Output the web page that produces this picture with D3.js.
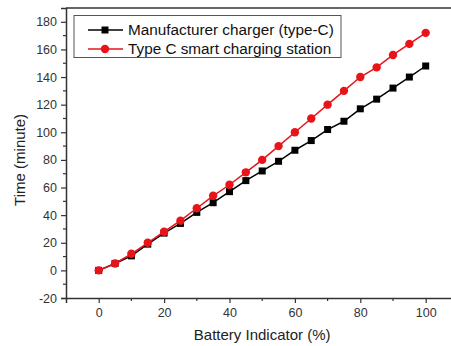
<!DOCTYPE html>
<html>
<head>
<meta charset="utf-8">
<script src="https://cdn.jsdelivr.net/npm/d3@7"></script>
<style>
  body { margin: 0; background: #fff; }
  svg { display: block; font-family: "Liberation Sans", Arial, sans-serif; }
</style>
</head>
<body>
<svg id="chart"></svg>
<script>
// battery indicator (%) vs charging time (minute)
const battery = [0, 5, 10, 15, 20, 25, 30, 35, 40, 45, 50, 55, 60, 65, 70, 75, 80, 85, 90, 95, 100];
const manufacturer = [0, 5, 10.5, 19, 27, 34, 42, 49, 57, 65, 72, 79, 87, 94, 102, 108, 117, 124, 132, 140, 148];
const smartStation = [0, 5, 12, 20, 28, 36, 45, 54, 62, 71, 80, 90, 100, 110, 120, 130, 140, 147, 156, 164, 172];
const seriesNames = ['Manufacturer charger (type-C)', 'Type C smart charging station'];
const xTicks = [0, 20, 40, 60, 80, 100];
const yTicks = [-20, 0, 20, 40, 60, 80, 100, 120, 140, 160, 180];

const width = 451, height = 346;
const margin = { top: 8, left: 66, bottom: 48 };
const fontFamily = '"Liberation Sans", Arial, sans-serif';

const svg = d3.select('#chart')
  .attr('width', width)
  .attr('height', height);

// x runs past the right edge, like the cropped original
const x = d3.scaleLinear().domain([-10, 110]).range([margin.left, margin.left + 120 * 3.27]);
const y = d3.scaleLinear().domain([-20, 190]).range([height - margin.bottom, margin.top]);

const axisColor = '#333';
const fmt = d => String(d); // plain hyphen for negatives

// axes
const xAxis = svg.append('g')
  .attr('transform', `translate(0,${height - margin.bottom})`)
  .call(d3.axisBottom(x).tickValues(xTicks).tickFormat(fmt).tickSize(5).tickPadding(5));
xAxis.append('g').selectAll('line')
  .data(d3.range(10, 110, 20))
  .join('line')
  .attr('x1', d => x(d)).attr('x2', d => x(d))
  .attr('y1', 0).attr('y2', 3);

const yAxis = svg.append('g')
  .attr('transform', `translate(${margin.left},0)`)
  .call(d3.axisLeft(y).tickValues(yTicks).tickFormat(fmt).tickSize(5).tickPadding(4));
yAxis.append('g').selectAll('line')
  .data(d3.range(-10, 190, 20))
  .join('line')
  .attr('y1', d => y(d)).attr('y2', d => y(d))
  .attr('x1', 0).attr('x2', -3);

[xAxis, yAxis].forEach(a => {
  a.attr('font-family', fontFamily).attr('font-size', 12.5);
  a.select('.domain').attr('stroke', axisColor).attr('stroke-width', 1.5);
  a.selectAll('line').attr('stroke', axisColor).attr('stroke-width', 1.2);
  a.selectAll('text').attr('fill', '#333');
});

// top border
svg.append('line')
  .attr('x1', margin.left).attr('x2', width)
  .attr('y1', margin.top).attr('y2', margin.top)
  .attr('stroke', axisColor).attr('stroke-width', 1.5);

// axis titles
svg.append('text')
  .attr('x', x(50)).attr('y', 340)
  .attr('text-anchor', 'middle')
  .attr('fill', '#222')
  .style('font-size', '15px')
  .text('Battery Indicator (%)');

svg.append('text')
  .attr('transform', `translate(25,${y(80)}) rotate(-90)`)
  .attr('text-anchor', 'middle')
  .attr('fill', '#222')
  .style('font-size', '15px')
  .text('Time (minute)');

// series
const series = [
  { name: seriesNames[0], values: manufacturer, color: '#000', shape: 'square' },
  { name: seriesNames[1], values: smartStation, color: '#e8141a', shape: 'circle' }
];

const line = d3.line()
  .x((d, i) => x(battery[i]))
  .y(d => y(d));

function drawMarker(g, shape, color) {
  if (shape === 'square') {
    g.append('rect').attr('x', -3.5).attr('y', -3.5).attr('width', 7).attr('height', 7).attr('fill', color);
  } else {
    g.append('circle').attr('r', 4.2).attr('fill', color);
  }
}

series.forEach(s => {
  svg.append('path')
    .datum(s.values)
    .attr('fill', 'none')
    .attr('stroke', s.color)
    .attr('stroke-width', 1.5)
    .attr('d', line);
  s.values.forEach((v, i) => {
    const g = svg.append('g').attr('transform', `translate(${x(battery[i])},${y(v)})`);
    drawMarker(g, s.shape, s.color);
  });
});

// legend
const legend = svg.append('g');
legend.append('rect')
  .attr('x', 74).attr('y', 15.5)
  .attr('width', 267).attr('height', 42)
  .attr('fill', '#fff')
  .attr('stroke', '#555').attr('stroke-width', 1);

series.forEach((s, i) => {
  const ly = 30 + i * 19;
  legend.append('line')
    .attr('x1', 88).attr('x2', 123)
    .attr('y1', ly).attr('y2', ly)
    .attr('stroke', s.color).attr('stroke-width', 1.5);
  const g = legend.append('g').attr('transform', `translate(105,${ly})`);
  drawMarker(g, s.shape, s.color);
  legend.append('text')
    .attr('x', 128).attr('y', ly)
    .attr('dy', '0.35em')
    .attr('fill', '#111')
    .style('font-size', '15.3px')
    .text(s.name);
});
</script>
</body>
</html>
